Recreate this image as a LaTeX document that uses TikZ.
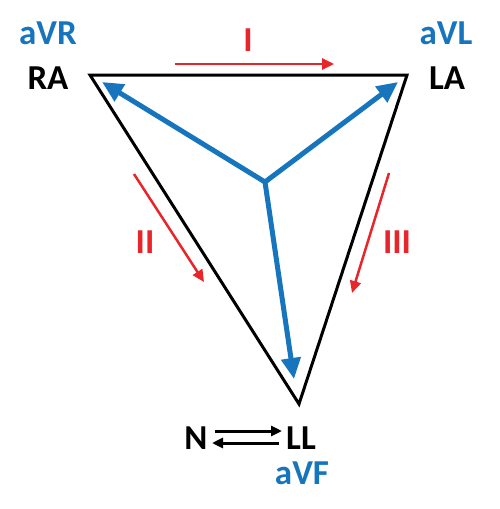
\documentclass[tikz,border=0pt]{standalone}
\usepackage{fontspec}
\setmainfont{Carlito}
\usetikzlibrary{arrows.meta}
\definecolor{ekgblue}{RGB}{23,117,189}
\definecolor{ekgred}{RGB}{232,37,42}
\tikzset{
  lbl/.style={font=\fontsize{35}{38}\selectfont\bfseries, inner sep=0pt, anchor=center},
  bluelbl/.style={lbl, text=ekgblue},
  redlbl/.style={lbl, text=ekgred},
  vec/.style={draw=ekgblue, line width=5pt, -{Triangle[length=21pt,width=19pt]}},
  lead/.style={draw=ekgred, line width=2.5pt, -{Triangle[length=12pt,width=11pt]}},
  nlink/.style={draw=black, line width=3pt, -{Triangle[length=11pt,width=10pt]}},
}
\begin{document}
\begin{tikzpicture}[x=1pt,y=-1pt]
\useasboundingbox (0,0) rectangle (499,509);
% triangle corners
\coordinate (ra) at (90,75);
\coordinate (la) at (407,75);
\coordinate (ll) at (299,404);
\draw[line width=3pt, line join=miter] (ra) -- (la) -- (ll) -- cycle;
% center and vector tips
\coordinate (c) at (265,182);
\coordinate (tra) at (102,82);
\coordinate (tla) at (398,82);
\coordinate (tll) at (294,379);
\draw[vec] (c) -- (tra);
\draw[vec] (c) -- (tla);
\draw[vec] (c) -- (tll);
% lead arrows
\coordinate (i1) at (175,64);
\coordinate (i2) at (334,64);
\draw[lead] (i1) -- (i2);
\coordinate (ii1) at (134,174);
\coordinate (ii2) at (204,282);
\draw[lead] (ii1) -- (ii2);
\coordinate (iii1) at (389,173);
\coordinate (iii2) at (352,293);
\draw[lead] (iii1) -- (iii2);
% labels
\node[redlbl] (lI) at (248,40) {I};
\node[redlbl] (lII) at (145,242) {II};
\node[redlbl] (lIII) at (397,242) {III};
\node[bluelbl] (aVR) at (48,33) {aVR};
\node[lbl] (RA) at (48,78) {RA};
\node[bluelbl] (aVL) at (446,33) {aVL};
\node[lbl] (LA) at (447,78) {LA};
\node[lbl] (N) at (196,438) {N};
\node[lbl] (LL) at (301,438) {LL};
\node[bluelbl] (aVF) at (302,473) {aVF};
% N <-> LL
\coordinate (n1) at (215,431);
\coordinate (l1) at (282,431);
\coordinate (l2) at (279,443);
\coordinate (n2) at (212,443);
\draw[nlink] (n1) -- (l1);
\draw[nlink] (l2) -- (n2);
\end{tikzpicture}
\end{document}
